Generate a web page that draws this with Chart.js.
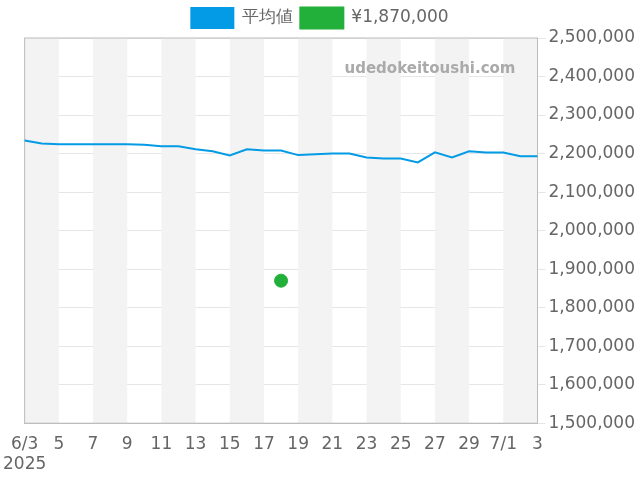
<!DOCTYPE html>
<html><head><meta charset="utf-8">
<script src="https://cdn.jsdelivr.net/npm/chart.js@4"></script>
<style>html,body{margin:0;padding:0;background:#fff}#w{width:640px;height:480px}</style>
</head><body><div id="w"><canvas id="c"></canvas></div>
<script>
const categories=['6/3','4','5','6','7','8','9','10','11','12','13','14','15','16','17','18','19','20','21','22','23','24','25','26','27','28','29','30','7/1','2','3'];
const avgValues=[2234000,2226000,2224000,2224000,2224000,2224000,2224000,2223000,2219000,2219000,2211000,2206000,2195000,2211000,2208000,2208000,2196000,2198000,2200000,2200000,2190000,2187000,2187000,2177000,2203000,2190000,2206000,2203000,2203000,2193000,2193000];
const listingValues=categories.map((c,i)=>i===15?1870000:null);
const yearLabel='2025';
const bands={id:'bands',beforeDatasetsDraw(ch){const x=ch.scales.x,a=ch.chartArea,g=ch.ctx;g.save();g.fillStyle='#f3f3f3';
for(let i=0;i<categories.length-1;i+=4){const x0=x.getPixelForValue(i),x1=x.getPixelForValue(Math.min(i+2,categories.length-1));g.fillRect(x0,a.top,x1-x0,a.bottom-a.top);}
g.strokeStyle='#bbb';g.lineWidth=1;g.strokeRect(a.left,a.top,a.right-a.left,a.bottom-a.top);
g.font='bold 15px "DejaVu Sans"';g.fillStyle='#aaa';g.textAlign='right';g.fillText('udedokeitoushi.com',a.right-22,a.top+31);g.restore();}};
new Chart(document.getElementById('c'),{type:'line',plugins:[bands],
data:{labels:categories,datasets:[
{label:'平均値',data:avgValues,borderColor:'#039be5',backgroundColor:'#039be5',borderWidth:2,pointRadius:0,tension:0},
{label:'¥1,870,000',data:listingValues,borderColor:'#22b03a',backgroundColor:'#22b03a',pointRadius:6.5,showLine:false}]},
options:{responsive:true,maintainAspectRatio:false,animation:false,
layout:{padding:{left:2,right:2,top:0,bottom:2}},
plugins:{legend:{labels:{boxWidth:42,boxHeight:20,padding:8,font:{size:17,family:'"DejaVu Sans"'},color:'#666'}},tooltip:{enabled:false}},
scales:{
x:{grid:{display:false},border:{color:'#bbb'},ticks:{autoSkip:false,maxRotation:0,color:'#666',font:{size:17,family:'"DejaVu Sans"'},
callback:(v,i)=>i%2?null:(i===0?[categories[i],yearLabel]:categories[i])}},
y:{position:'right',min:1500000,max:2500000,grid:{color:'#e6e6e6'},border:{color:'#bbb'},
ticks:{stepSize:100000,color:'#666',font:{size:17,family:'"DejaVu Sans"'},callback:v=>v.toLocaleString('en-US')}}}}});
</script></body></html>
